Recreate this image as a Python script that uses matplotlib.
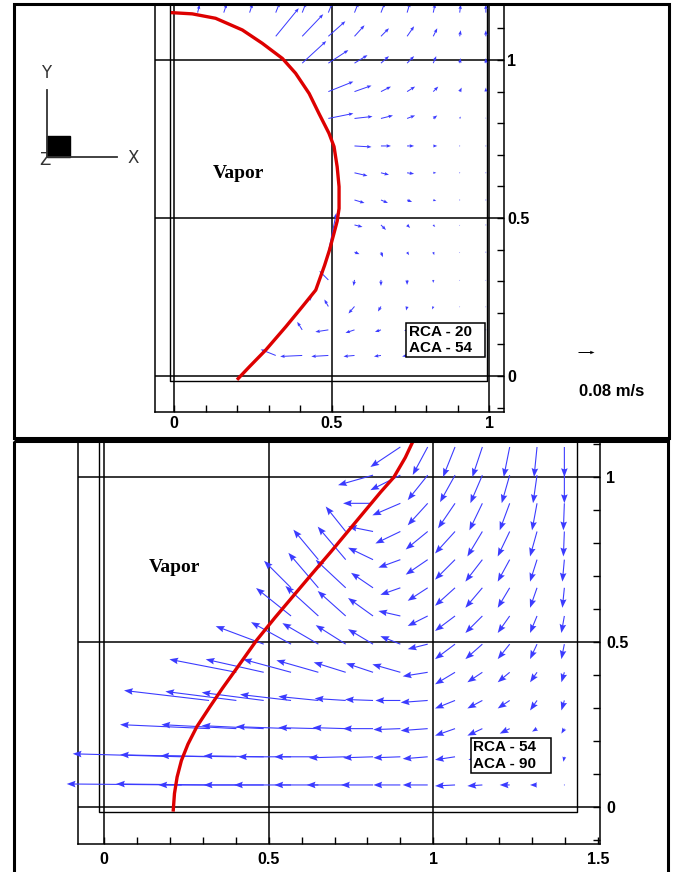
import numpy as np
import matplotlib
matplotlib.use("Agg")
import matplotlib.pyplot as plt
from matplotlib.patches import Rectangle
from matplotlib.ticker import MultipleLocator

n = np.nan

# ---------------- top panel (RCA 20 / ACA 54), velocities in cm/s ----------------
top_x = [0.075, 0.158, 0.24, 0.323, 0.407, 0.49, 0.573, 0.657, 0.74, 0.823, 0.907, 0.99]
top_y = [0.065, 0.146, 0.22, 0.304, 0.392, 0.478, 0.557, 0.643, 0.728, 0.815, 0.90, 0.99, 1.075, 1.15]
top_u = [
    [n, n, n, -7.5, -11, -8.5, -5.5, -3.5, -2.5, -1.5, -1, -0.5],
    [n, n, n, n, -2.5, -6.5, -4.5, -3, -1.5, -1, -0.5, 0],
    [n, n, n, n, 5, -2, -3, -1.5, -0.5, -0.5, 0, 0],
    [n, n, n, n, n, -4.5, -0.5, 0, 0, 0, 0, 0],
    [n, n, n, n, n, 4, 2.5, 1, 1, 0.5, 0, 0],
    [n, n, n, n, n, n, 4, 2.5, 1.5, 1, 0, 0],
    [n, n, n, n, n, n, 5, 3.5, 2.5, 1.5, 0.5, 0],
    [n, n, n, n, n, n, 6.5, 4, 3.5, 1.5, 0.5, 0],
    [n, n, n, n, n, n, 8.5, 5, 3.5, 2, 0.5, 0],
    [n, n, n, n, n, 12.5, 9, 6, 4, 2, 0.5, 0],
    [n, n, n, n, n, 12.5, 8.5, 5, 4, 2.5, 1, 0],
    [n, n, n, n, 12, 10, 6.5, 4, 3.5, 1.5, 0.5, 0],
    [n, n, n, 11.5, 10.5, 8.5, 5, 4, 3.5, 2, 0.5, 0],
    [1, 1.5, 1.5, 2, 2, 2, 2, 2, 1.5, 1, 0.5, 0],
]
top_v = [
    [n, n, n, 3, -0.5, -0.5, -0.5, -0.5, -0.5, 0, 0, 0],
    [n, n, n, n, 4, -1, -1.5, -1, -0.5, -0.5, 0, 0],
    [n, n, n, n, 5, 3.5, -3.5, -2.5, -2, -1.5, -0.5, -0.5],
    [n, n, n, n, n, 4.5, -3, -3, -2.5, -1.5, -0.5, -0.5],
    [n, n, n, n, n, 19.5, -1, -2.5, -1.5, -1.5, -0.5, 0],
    [n, n, n, n, n, n, -1, -2.5, -1.5, -1, -0.5, 0],
    [n, n, n, n, n, n, -1.5, -1.5, -1, -0.5, 0, 0],
    [n, n, n, n, n, n, -1.5, -1, -0.5, 0, 0, 0],
    [n, n, n, n, n, n, -0.5, 0, 0, 0, 0, 0],
    [n, n, n, n, n, 2.5, 1, 1.5, 1.5, 1.5, 1, 0.5],
    [n, n, n, n, n, 5, 3, 2.5, 2.5, 2.5, 2, 2],
    [n, n, n, n, 11, 6.5, 4, 3.5, 3.5, 3.5, 2.5, 2.5],
    [n, n, n, 14, 11, 7.5, 5.5, 4, 5, 4, 3, 3],
    [4, 4.5, 4.5, 5, 5, 5, 5, 5, 5, 4.5, 4, 4],
]
top_curve_x = [-0.01, 0.058, 0.132, 0.217, 0.280, 0.344, 0.386, 0.429, 0.460, 0.492, 0.508,
               0.518, 0.524, 0.524, 0.518, 0.508, 0.494, 0.478, 0.450, 0.407, 0.355, 0.291, 0.240, 0.200]
top_curve_y = [1.150, 1.146, 1.132, 1.095, 1.053, 1.005, 0.958, 0.894, 0.831, 0.768, 0.726,
               0.662, 0.599, 0.530, 0.490, 0.452, 0.400, 0.350, 0.272, 0.219, 0.156, 0.082, 0.030, -0.012]

# ---------------- bottom panel (RCA 54 / ACA 90), velocities in cm/s ----------------
bot_x = [0.07, 0.153, 0.236, 0.319, 0.402, 0.485, 0.568, 0.651, 0.734, 0.817, 0.9,
         0.983, 1.066, 1.149, 1.232, 1.315, 1.398]
bot_y = [0.066, 0.1515, 0.237, 0.3225, 0.408, 0.4935, 0.579, 0.6645, 0.75, 0.8355, 0.921, 1.0065, 1.092]
bot_u = [
    [n, n, -57.5, -46.5, -39, -30, -28.5, -22, -19.5, -16, -13.5, -12.5, -10, -7.5, -5, -3.5, 0],
    [n, n, -54.5, -44.5, -38, -30, -26.5, -22, -18.5, -15, -13.5, -12.5, -10, -7, -4, -2.5, -0.5],
    [n, n, n, -44.5, -37.5, -31, -27.5, -20, -16.5, -15, -13.5, -13.5, -10, -7.5, -5, -2.5, -1.5],
    [n, n, n, -42.5, -35.5, -31, -25.5, -20, -15.5, -14, -12.5, -13.5, -10, -7.5, -6, -3.5, -1.5],
    [n, n, n, n, -33.5, -29, -24, -21, -16, -13.5, -14, -12.5, -10, -7.5, -6, -3.5, -1.5],
    [n, n, n, n, n, -24, -20, -18, -15, -12.5, -10, -10, -10, -8.5, -6, -3.5, -1.5],
    [n, n, n, n, n, n, -17.5, -16.5, -14, -12.5, -11, -10, -10, -8.5, -6, -3.5, -1.5],
    [n, n, n, n, n, n, -13.5, -15, -15, -11, -10, -10, -10, -8.5, -6, -3.5, -1],
    [n, n, n, n, n, n, n, -12.5, -14, -12.5, -11, -11, -10, -8.5, -6, -3.5, -1],
    [n, n, n, n, n, n, n, n, -10, -12.5, -12.5, -11, -10, -7.5, -6, -3.5, -0.5],
    [n, n, n, n, n, n, n, n, n, -15, -14, -10, -8.5, -6.5, -5, -2.5, -0.5],
    [n, n, n, n, n, n, n, n, n, -17.5, -15, -10, -7.5, -6, -4, -2, 0],
    [n, n, n, n, n, n, n, n, n, n, -15, -7.5, -6, -5, -3, -1.5, 0],
]
bot_v = [
    [n, n, 0.5, 0.5, 0, 0, 0, 0, 0, 0, 0, 0, -0.5, -0.5, 0, 0, 0],
    [n, n, 1.5, 1, 0.5, 0.5, 0, 0, -0.5, -0.5, -0.5, -1, -1.5, -1.5, -1, -0.5, -2.5],
    [n, n, n, 2, 2, 1.5, 1, 0.5, 0.5, 0, -0.5, -1, -3.5, -3.5, -2.5, -1.5, -2.5],
    [n, n, n, 5, 4.5, 4, 3, 2, 1, 0.5, 0, -1, -4, -4, -4, -5, -5],
    [n, n, n, n, 6.5, 6.5, 6.5, 6, 5, 4.5, 4, -2, -6, -5, -5, -5, -5],
    [n, n, n, n, n, 9, 11, 10.5, 9.5, 7.5, 4, -2.5, -7.5, -7.5, -7.5, -7.5, -7.5],
    [n, n, n, n, n, n, 14, 15, 12.5, 9, 2.5, -5, -7.5, -8.5, -8.5, -8.5, -8.5],
    [n, n, n, n, n, n, 13.5, 17.5, 14, 7.5, -3.5, -6.5, -9, -10, -10, -10, -10],
    [n, n, n, n, n, n, n, 15, 16.5, 6, -4, -7.5, -10, -11, -11, -11, -11],
    [n, n, n, n, n, n, n, n, 12.5, 2.5, -6, -9, -11, -12.5, -12.5, -12.5, -12.5],
    [n, n, n, n, n, n, n, n, n, 0, -6, -11, -12.5, -13.5, -13.5, -13.5, -13.5],
    [n, n, n, n, n, n, n, n, n, -5, -7.5, -12.5, -13.5, -14, -14, -14, -14],
    [n, n, n, n, n, n, n, n, n, n, -10, -14, -15, -15, -15, -15, -15],
]
bot_curve_x = [0.210, 0.214, 0.222, 0.235, 0.255, 0.282, 0.322, 0.360, 0.403, 0.464, 0.520,
               0.575, 0.630, 0.690, 0.740, 0.790, 0.840, 0.880, 0.915, 0.940]
bot_curve_y = [-0.015, 0.04, 0.09, 0.14, 0.19, 0.243, 0.304, 0.36, 0.42, 0.506, 0.575,
               0.64, 0.705, 0.775, 0.835, 0.895, 0.955, 1.0, 1.06, 1.113]

tick_major = [0, 0.5, 1]
tick_major_bot_x = [0, 0.5, 1, 1.5]
tick_labels = ["0", "0.5", "1"]
tick_labels_bot_x = ["0", "0.5", "1", "1.5"]
ref_speed = 8           # cm/s  -> "0.08 m/s"
ref_label = "0.08 m/s"
label_top = ["RCA - 20", "ACA - 54"]
label_bot = ["RCA - 54", "ACA - 90"]

# ---------------- figure ----------------
W, H = 675, 872
fig = plt.figure(figsize=(W / 100, H / 100), dpi=100)
BLUE = "#3b3bff"
RED = "#dd0000"
SANS = ["Liberation Sans", "DejaVu Sans"]


def box(l, t, r, b):
    return [l / W, 1 - b / H, (r - l) / W, (b - t) / H]


def style_axes(ax, xt, xl, yt, yl, xpad, ypad):
    ax.set_xticks(xt)
    ax.set_xticklabels(xl)
    ax.set_yticks(yt)
    ax.set_yticklabels(yl)
    ax.xaxis.set_minor_locator(MultipleLocator(0.1))
    ax.yaxis.set_minor_locator(MultipleLocator(0.1))
    ax.yaxis.tick_right()
    ax.tick_params(which="both", direction="in", length=5, width=1.0, color="black",
                   top=False, left=False)
    ax.tick_params(axis="x", which="major", pad=xpad)
    ax.tick_params(axis="y", which="major", pad=ypad)
    for lab in ax.get_xticklabels() + ax.get_yticklabels():
        lab.set_fontfamily(SANS)
        lab.set_fontweight("bold")
        lab.set_fontsize(11.5)
    ax.spines["top"].set_visible(False)
    for s in ("left", "right", "bottom"):
        ax.spines[s].set_linewidth(1.1)
    for v in tick_major:
        ax.axvline(v, color="black", lw=1.1, zorder=1)
        ax.axhline(v, color="black", lw=1.1, zorder=1)


def quiver_panel(ax, xs, ys, us, vs, scale, head, width, clip):
    X, Y = np.meshgrid(xs, ys)
    U = np.ma.masked_invalid(np.array(us, dtype=float))
    V = np.ma.masked_invalid(np.array(vs, dtype=float))
    q = ax.quiver(X, Y, U, V, color=BLUE, scale=scale, scale_units="xy", angles="xy",
                  units="dots", width=width, headwidth=head[0], headlength=head[1],
                  headaxislength=head[2], pivot="tail", zorder=3)
    q.set_clip_on(clip)
    return q


def label_box(ax, x0, y0, x1, y1, lines):
    ax.add_patch(Rectangle((x0, y0), x1 - x0, y1 - y0, facecolor="white",
                           edgecolor="black", lw=1.1, zorder=6))
    h = (y1 - y0)
    ax.text(x0 + 0.008, y0 + 0.73 * h, lines[0], fontfamily=SANS, fontweight="bold",
            fontsize=11, ha="left", va="center", zorder=7)
    ax.text(x0 + 0.008, y0 + 0.27 * h, lines[1], fontfamily=SANS, fontweight="bold",
            fontsize=11, ha="left", va="center", zorder=7)


# ---- top axes ----
axt = fig.add_axes(box(155, 5, 504, 412))
axt.set_xlim((155 - 174) / 315, (504 - 174) / 315)
axt.set_ylim((376 - 412) / 316, (376 - 5) / 316)
style_axes(axt, tick_major, tick_labels, tick_major, tick_labels, 3.2, 2.5)
axt.plot([-0.012, -0.012, 0.994, 0.994], [1.3, -0.016, -0.016, 1.3], color="black", lw=1.0, zorder=1)
qt = quiver_panel(axt, top_x, top_y, top_u, top_v, 157.5, (3.5, 4.5, 4.0), 1.0, True)
axt.plot(top_curve_x, top_curve_y, color=RED, lw=2.4, zorder=4, solid_capstyle="butt")
axt.text(0.206, 0.64, "Vapor", fontfamily=["Liberation Serif", "DejaVu Serif"], fontweight="bold",
         fontsize=14, ha="center", va="center", zorder=5)
label_box(axt, 0.737, 0.061, 0.987, 0.169, label_top)
axt.quiverkey(qt, 586 / W, 1 - 352 / H, ref_speed, " ", coordinates="figure", color="black",
              labelpos="S")
fig.text(612 / W, 1 - 392 / H, ref_label, fontfamily=SANS, fontweight="bold", fontsize=12,
         ha="center", va="center")

# ---- bottom axes ----
axb = fig.add_axes(box(78, 440, 600, 844))
axb.set_xlim((78 - 104) / 329.3, (600 - 104) / 329.3)
axb.set_ylim((806.7 - 844) / 329.4, (806.7 - 440) / 329.4)
style_axes(axb, tick_major_bot_x, tick_labels_bot_x, tick_major, tick_labels, 5.5, 4.5)
axb.plot([-0.016, -0.016, 1.437, 1.437], [1.3, -0.017, -0.017, 1.3], color="black", lw=1.0, zorder=1)
quiver_panel(axb, bot_x, bot_y, bot_u, bot_v, 164.65, (6.0, 8.0, 7.0), 1.1, False)
axb.plot(bot_curve_x, bot_curve_y, color=RED, lw=2.4, zorder=4, solid_capstyle="butt")
axb.text(0.215, 0.725, "Vapor", fontfamily=["Liberation Serif", "DejaVu Serif"], fontweight="bold",
         fontsize=14, ha="center", va="center", zorder=5)
label_box(axb, 1.114, 0.101, 1.356, 0.21, label_bot)

# ---- overlay: panel frames and axis triad ----
ov = fig.add_axes([0, 0, 1, 1], zorder=10)
ov.set_xlim(0, W)
ov.set_ylim(H, 0)
ov.axis("off")
ov.patch.set_alpha(0)
ov.add_patch(Rectangle((14, 4.5), 655, 433, fill=False, edgecolor="black", lw=2.2))
ov.add_patch(Rectangle((14, 440.5), 654, 440, fill=False, edgecolor="black", lw=2.2))
ov.plot([47, 47], [90, 157], color="#333333", lw=1.3)
ov.plot([47, 117], [157, 157], color="#333333", lw=1.3)
ov.add_patch(Rectangle((47, 136), 23, 21, facecolor="black", edgecolor="black"))
ov.text(46, 73, "Y", fontsize=12, color="#333333", ha="center", va="center", fontfamily="DejaVu Sans")
ov.text(133, 158, "X", fontsize=12, color="#333333", ha="center", va="center", fontfamily="DejaVu Sans")
ov.text(45, 160, "Z", fontsize=12, color="#333333", ha="center", va="center", fontfamily="DejaVu Sans",
        zorder=0)

fig.savefig("out.png", dpi=100)
